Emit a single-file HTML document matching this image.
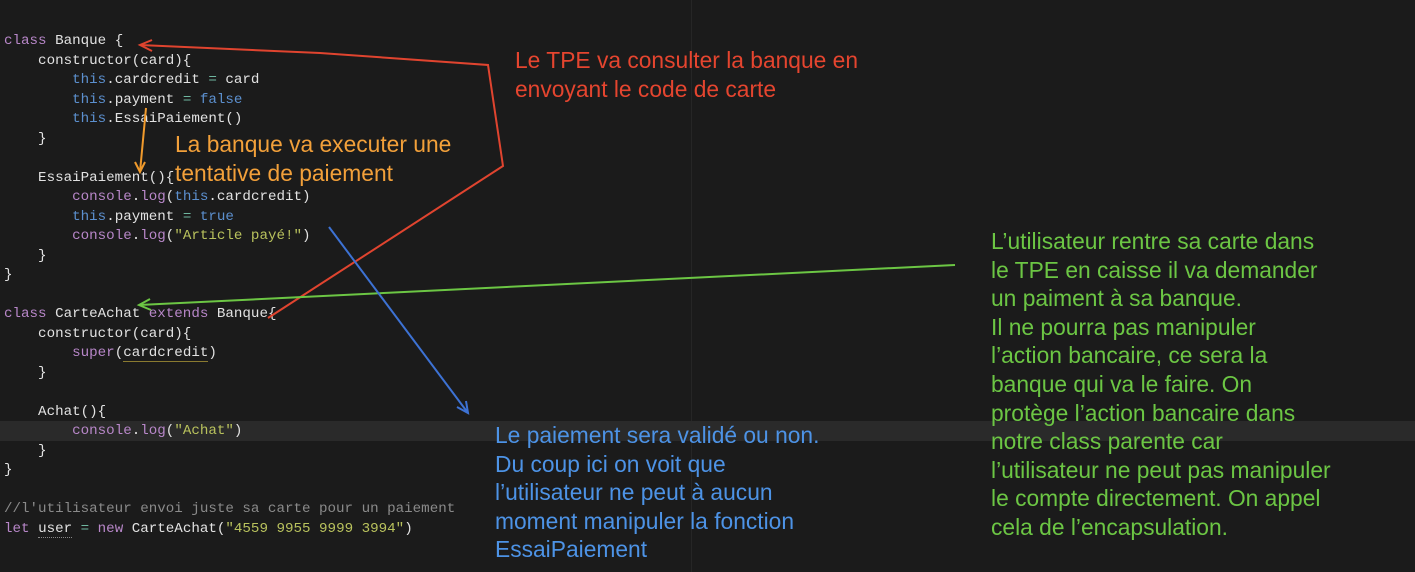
<!DOCTYPE html>
<html><head><meta charset="utf-8"><style>
body{margin:0;width:1415px;height:572px;background:#1b1b1b;overflow:hidden;position:relative}
.c{position:absolute;left:4px;font:14.2px/19.5px "Liberation Mono",monospace;color:#e2e2e2;white-space:pre}
.k{color:#b887c9}.t{color:#5c90cf}.s{color:#b9c25d}.o{color:#6fb7a0}.cm{color:#8a8a8a}
.a{position:absolute;font:22.8px/28.6px "Liberation Sans",sans-serif;white-space:pre}
</style></head><body>
<div style="position:absolute;left:691px;top:0;width:1px;height:572px;background:#262626"></div>
<div style="position:absolute;left:0;top:421px;width:1415px;height:20px;background:#2a2a2a"></div>
<div class="c" style="top:32px"><span class="k">class</span> Banque {
    constructor(card){
        <span class="t">this</span>.cardcredit <span class="o">=</span> card
        <span class="t">this</span>.payment <span class="o">=</span> <span class="t">false</span>
        <span class="t">this</span>.EssaiPaiement()
    }

    EssaiPaiement(){
        <span class="k">console</span>.<span class="k">log</span>(<span class="t">this</span>.cardcredit)
        <span class="t">this</span>.payment <span class="o">=</span> <span class="t">true</span>
        <span class="k">console</span>.<span class="k">log</span>(<span class="s">"Article payé!"</span>)
    }
}

<span class="k">class</span> CarteAchat <span class="k">extends</span> Banque{
    constructor(card){
        <span class="k">super</span>(<span style="border-bottom:1px solid #8a7a30">cardcredit</span>)
    }

    Achat(){
        <span class="k">console</span>.<span class="k">log</span>(<span class="s">"Achat"</span>)
    }
}

<span class="cm">//l'utilisateur envoi juste sa carte pour un paiement</span>
<span class="k">let</span> <span style="border-bottom:1px dotted #888">user</span> <span class="o">=</span> <span class="k">new</span> CarteAchat(<span class="s">"4559 9955 9999 3994"</span>)</div>
<svg width="1415" height="572" style="position:absolute;left:0;top:0">
<g fill="none" stroke-width="2">
<polyline points="140,45 320,53 488,65 503,166 268,318" stroke="#e0442f"/>
<polyline points="152,40 140,45 152,51" stroke="#e0442f"/>
<line x1="146" y1="108" x2="140" y2="172" stroke="#f09a2c"/>
<polyline points="135,162 140,172 145,162" stroke="#f09a2c"/>
<line x1="955" y1="265" x2="139" y2="305" stroke="#6cc644"/>
<polyline points="150,299 139,305 151,310" stroke="#6cc644"/>
<line x1="329" y1="227" x2="468" y2="413" stroke="#3d72d4"/>
<polyline points="457,407 468,413 466,401" stroke="#3d72d4"/>
</g></svg>
<div class="a" style="left:515px;top:46px;color:#e5452f">Le TPE va consulter la banque en
envoyant le code de carte</div>
<div class="a" style="left:175px;top:130px;color:#f2a03a">La banque va executer une
tentative de paiement</div>
<div class="a" style="left:991px;top:227px;color:#6cc644">L’utilisateur rentre sa carte dans
le TPE en caisse il va demander
un paiment à sa banque.
Il ne pourra pas manipuler
l’action bancaire, ce sera la
banque qui va le faire. On
protège l’action bancaire dans
notre class parente car
l’utilisateur ne peut pas manipuler
le compte directement. On appel
cela de l’encapsulation.</div>
<div class="a" style="left:495px;top:421px;color:#4d93e6">Le paiement sera validé ou non.
Du coup ici on voit que
l’utilisateur ne peut à aucun
moment manipuler la fonction
EssaiPaiement</div>
</body></html>
